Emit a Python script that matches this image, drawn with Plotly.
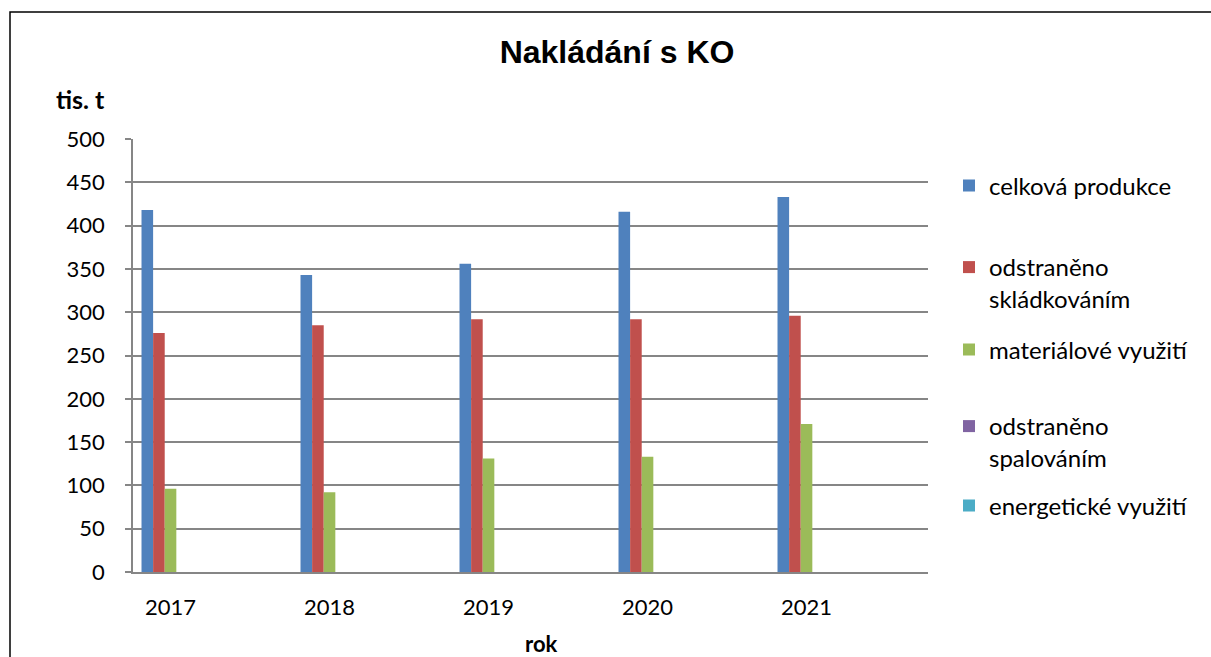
import plotly.graph_objects as go

years = ["2017", "2018", "2019", "2020", "2021"]
celkova_produkce = [418, 343, 356, 416, 433]
odstraneno_skladkovanim = [276, 285, 292, 292, 296]
materialove_vyuziti = [96, 92, 131, 133, 171]
odstraneno_spalovanim = [0, 0, 0, 0, 0]
energeticke_vyuziti = [0, 0, 0, 0, 0]

series_names = ["celková produkce", "odstraněno<br>skládkováním", "materiálové využití",
                "odstraněno<br>spalováním", "energetické využití"]
series_values = [celkova_produkce, odstraneno_skladkovanim, materialove_vyuziti,
                 odstraneno_spalovanim, energeticke_vyuziti]
colors = ["#4F81BD", "#C0504D", "#9BBB59", "#8064A2", "#4BACC6"]

W, H = 1211, 657
L, R, T, B = 133, 928, 139, 572
pw, ph = R - L, B - T

FONT = "Lato"
fig = go.Figure()
legend_ids = ["legend", "legend2", "legend3", "legend4", "legend5"]
for name, vals, col, lid in zip(series_names, series_values, colors, legend_ids):
    fig.add_trace(go.Bar(x=years, y=vals, name=name, marker=dict(color=col, line=dict(width=0)),
                         legend=lid))

# legend centers (pixel y)
legend_y = [186, 283, 350, 442, 506]
legend_x = (949 - L) / pw
legend_layout = {}
for lid, yc in zip(legend_ids, legend_y):
    legend_layout[lid] = dict(x=legend_x, xanchor="left", y=(B - yc) / ph, yanchor="middle",
                              font=dict(family=FONT, size=24, color="#000000"),
                              bgcolor="rgba(0,0,0,0)", valign="top", itemwidth=30)

fig.update_layout(
    width=W, height=H,
    margin=dict(l=L, r=W - R, t=T, b=H - B),
    paper_bgcolor="white", plot_bgcolor="white",
    barmode="group", bargap=0.635, bargroupgap=0,
    showlegend=True,
    title=dict(text="<b>Nakládání s KO</b>", x=617 / W, xanchor="center", xref="container",
               y=1 - 52 / H, yanchor="middle", yref="container",
               font=dict(family="Liberation Sans", size=32, color="#000000")),
    xaxis=dict(type="category", range=[-0.236, 4.764], showgrid=False,
               showline=True, linecolor="#868686", linewidth=1.5, ticks="",
               tickfont=dict(family=FONT, size=22, color="#000000"), ticklabelstandoff=15),
    yaxis=dict(range=[0, 500], dtick=50, showgrid=True, gridcolor="#868686", gridwidth=1.5,
               showline=True, linecolor="#868686", linewidth=1.5, ticks="outside",
               ticklen=6, tickcolor="#868686", tickwidth=1.5, zeroline=False,
               tickfont=dict(family=FONT, size=22, color="#000000"), ticklabelstandoff=16),
    annotations=[
        dict(text="<b>tis. t</b>", x=(80 - L) / pw, y=(B - 99) / ph, xref="paper", yref="paper",
             xanchor="center", yanchor="middle", showarrow=False,
             font=dict(family=FONT, size=25, color="#000000")),
        dict(text="<b>rok</b>", x=(541 - L) / pw, y=(B - 643) / ph, xref="paper", yref="paper",
             xanchor="center", yanchor="middle", showarrow=False,
             font=dict(family=FONT, size=22, color="#000000")),
    ],
    shapes=[
        dict(type="rect", xref="paper", yref="paper",
             x0=(10 - L) / pw, x1=(1230 - L) / pw, y0=(B - 680) / ph, y1=(B - 12) / ph,
             line=dict(color="#000000", width=1.5), fillcolor="rgba(0,0,0,0)", layer="below"),
    ],
    **legend_layout,
)

fig.write_html("out.html", config={"displayModeBar": False},
               post_script="document.body.style.margin='0';document.body.style.overflow='hidden';")
